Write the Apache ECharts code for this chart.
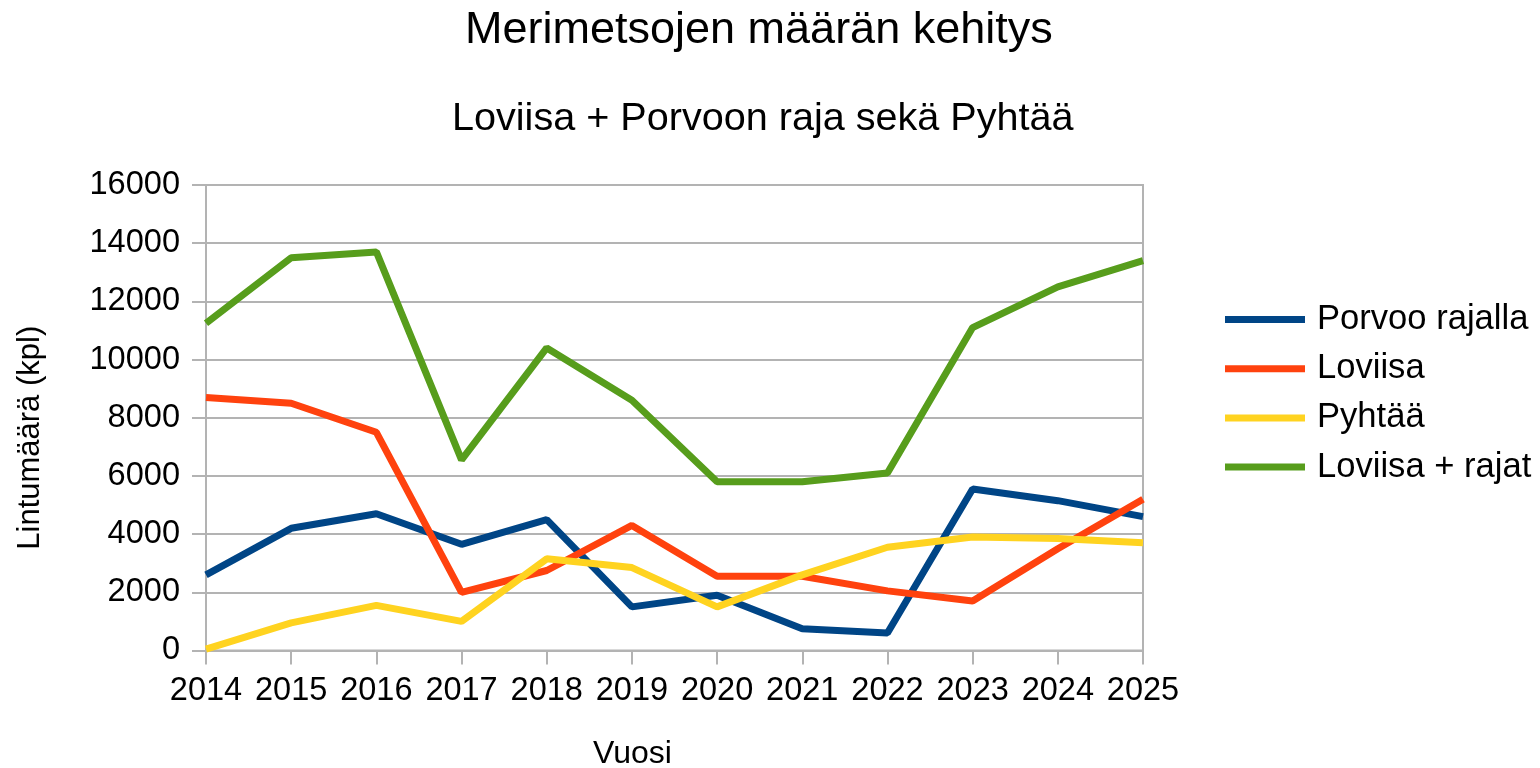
<!DOCTYPE html>
<html>
<head>
<meta charset="utf-8">
<script src="https://cdn.jsdelivr.net/npm/echarts@6/dist/echarts.min.js"></script>
<style>
html,body{margin:0;padding:0;background:#fff;}
#chart{width:1540px;height:768px;}
</style>
</head>
<body>
<div id="chart"></div>
<script>
const years = ['2014','2015','2016','2017','2018','2019','2020','2021','2022','2023','2024','2025'];
const porvooRajalla = [2600, 4200, 4700, 3650, 4500, 1500, 1900, 750, 600, 5550, 5150, 4600];
const loviisa = [8700, 8500, 7500, 2000, 2750, 4300, 2550, 2550, 2050, 1700, 3500, 5200];
const pyhtaa = [50, 950, 1550, 1000, 3150, 2850, 1500, 2600, 3550, 3900, 3850, 3700];
const loviisaRajat = [11250, 13500, 13700, 6550, 10400, 8600, 5800, 5800, 6100, 11100, 12500, 13400];
const seriesNames = ['Porvoo rajalla', 'Loviisa', 'Pyhtää', 'Loviisa + rajat'];
const seriesColors = ['#004586', '#ff420e', '#ffd320', '#579d1c'];
const titleText = 'Merimetsojen määrän kehitys';
const subtitleText = 'Loviisa + Porvoon raja sekä Pyhtää';
const xName = 'Vuosi';
const yName = 'Lintumäärä (kpl)';

const FONT = '"Liberation Sans", Arial, sans-serif';
const gray = '#b3b3b3';
const chart = echarts.init(document.getElementById('chart'), null, {renderer: 'canvas'});
const data = [porvooRajalla, loviisa, pyhtaa, loviisaRajat];

chart.setOption({
  backgroundColor: '#fff',
  animation: false,
  textStyle: {fontFamily: FONT},
  title: [
    {text: titleText, left: 465, top: 8, padding: 0,
     textStyle: {fontFamily: FONT, fontSize: 45, fontWeight: 'normal', color: '#000'}},
    {text: subtitleText, left: 452, top: 99, padding: 0,
     textStyle: {fontFamily: FONT, fontSize: 39.6, fontWeight: 'normal', color: '#000'}}
  ],
  legend: {
    orient: 'vertical', left: 1225, top: 302, padding: 0,
    icon: 'rect', itemWidth: 80, itemHeight: 7, itemGap: 14.2,
    textStyle: {fontFamily: FONT, fontSize: 34.6, color: '#000', lineHeight: 34, padding: [0,0,0,7]},
    data: seriesNames
  },
  grid: {left: 206, right: 397, top: 185, bottom: 117.5, show: true, borderColor: gray, borderWidth: 2,
         containLabel: false, outerBoundsMode: 'none'},
  xAxis: {
    type: 'category', data: years, boundaryGap: false,
    name: xName, nameLocation: 'middle', nameGap: 88,
    nameTextStyle: {fontFamily: FONT, fontSize: 32, color: '#000', padding: [0, 84, 0, 0]},
    axisLine: {show: true, lineStyle: {color: gray, width: 2}},
    axisTick: {show: true, length: 14, interval: 0, lineStyle: {color: gray, width: 2}},
    axisLabel: {fontFamily: FONT, fontSize: 32.5, color: '#000', margin: 24, interval: 0, hideOverlap: false},
    splitLine: {show: false}
  },
  yAxis: {
    type: 'value', min: 0, max: 16000, interval: 2000,
    name: yName, nameLocation: 'middle', nameGap: 160,
    nameTextStyle: {fontFamily: FONT, fontSize: 31, color: '#000', padding: [0, 40, 0, 0]},
    axisLine: {show: true, lineStyle: {color: gray, width: 2}},
    axisTick: {show: true, length: 14, lineStyle: {color: gray, width: 2}},
    axisLabel: {fontFamily: FONT, fontSize: 32.6, color: '#000', margin: 26, formatter: v => String(v)},
    splitLine: {show: true, lineStyle: {color: gray, width: 2}}
  },
  series: seriesNames.map((n, i) => ({
    name: n, type: 'line', data: data[i], showSymbol: false, symbol: 'none',
    color: seriesColors[i],
    lineStyle: {width: 7, color: seriesColors[i]},
    itemStyle: {color: seriesColors[i]}
  }))
});
</script>
</body>
</html>
